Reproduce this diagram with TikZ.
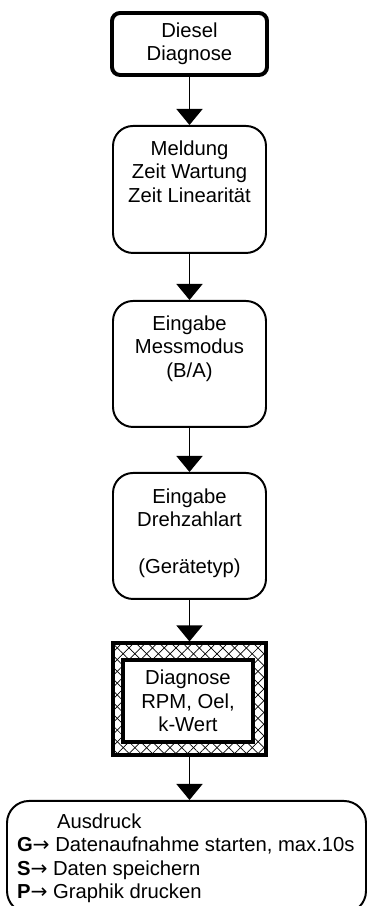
\documentclass[tikz,border=0pt]{standalone}
\usepackage{fontspec}
\setmainfont{Liberation Sans}
\newfontfamily\arrowfont{DejaVu Sans}
\newcommand{\pfeil}{{\arrowfont →}}
\usetikzlibrary{arrows.meta,patterns.meta}
\tikzset{
  flowbox/.style={draw,line width=1.4pt,rounded corners=0.5cm,inner sep=0pt},
  flowarrow/.style={line width=1.1pt,-{Triangle[width=0.65cm,length=0.4cm]}},
  hatchlines/.style={pattern={Lines[angle=#1,distance=5.9pt,line width=0.5pt]}},
}
\begin{document}
\begin{tikzpicture}[x=1cm,y=1cm,font=\fontsize{14.4}{16.6}\selectfont]
\useasboundingbox (0,0) rectangle (9.175,22.65);
\node[draw,line width=2.8pt,rounded corners=0.2cm,minimum width=3.875cm,minimum height=1.55cm,align=center,inner sep=0pt] (start) at (4.7375,21.55) {Diesel\\Diagnose};
\node[flowbox,anchor=north] (meldung) at (4.7375,19.525) {\parbox[c][3.175cm][t]{3.825cm}{\centering\vspace*{0.375cm}Meldung\\Zeit Wartung\\Zeit Linearität}};
\node[flowbox,anchor=north] (modus) at (4.7375,15.15) {\parbox[c][3.15cm][t]{3.825cm}{\centering\vspace*{0.375cm}Eingabe\\Messmodus\\(B/A)}};
\node[flowbox,anchor=north] (drehzahl) at (4.7375,10.85) {\parbox[c][3.15cm][t]{3.825cm}{\centering\vspace*{0.4cm}Eingabe\\Drehzahlart\\[\baselineskip](Gerätetyp)}};
\node[draw,line width=2.2pt,minimum width=3.825cm,minimum height=2.8cm,preaction={hatchlines=45},preaction={hatchlines=-45}] (diag) at (4.7375,5.175) {};
\node[draw,fill=white,line width=2.2pt,minimum width=3.25cm,minimum height=2.05cm,align=center,inner sep=0pt] (diagtext) at (4.7,5.125) {Diagnose\\RPM, Oel,\\k-Wert};
\node[flowbox,anchor=north,rounded corners=0.55cm] (druck) at (4.6625,2.65) {\parbox[c][2.8cm][t]{8.975cm}{\raggedright\leftskip=0.25cm\vspace*{0.325cm}\hspace*{1cm}Ausdruck\\\textbf{G}\pfeil{} Datenaufnahme starten, max.10s\\\textbf{S}\pfeil{} Daten speichern\\\textbf{P}\pfeil{} Graphik drucken}};
% connectors
\draw[flowarrow] (start) -- (meldung);
\draw[flowarrow] (meldung) -- (modus);
\draw[flowarrow] (modus) -- (drehzahl);
\draw[flowarrow] (drehzahl) -- (diag);
\draw[flowarrow] (diag.south) -- (diag.south |- druck.north);
\end{tikzpicture}
\end{document}
